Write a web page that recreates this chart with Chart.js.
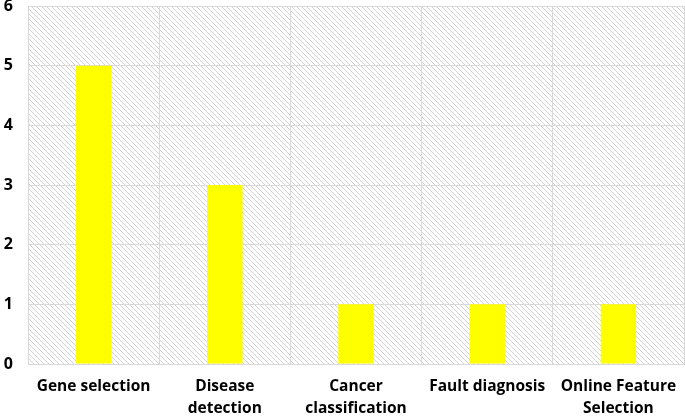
<!DOCTYPE html>
<html>
<head>
<meta charset="utf-8">
<script src="https://cdn.jsdelivr.net/npm/chart.js"></script>
<style>
  html, body { margin: 0; padding: 0; background: #fff; }
  #wrap { width: 685px; height: 418px; }
</style>
</head>
<body>
<div id="wrap"><canvas id="chart"></canvas></div>
<script>
// data
const categories = [
  'Gene selection',
  ['Disease', 'detection'],
  ['Cancer', 'classification'],
  'Fault diagnosis',
  ['Online Feature', 'Selection']
];
const counts = [5, 3, 1, 1, 1];
const yTicks = [0, 1, 2, 3, 4, 5, 6];

// diagonal hatch used as plot background
function makeHatch(ctx) {
  const c = document.createElement('canvas');
  c.width = 5; c.height = 5;
  const g = c.getContext('2d');
  g.fillStyle = '#ffffff';
  g.fillRect(0, 0, 5, 5);
  g.strokeStyle = '#d4d4d4';
  g.lineWidth = 1;
  g.beginPath();
  g.moveTo(-1, -1); g.lineTo(6, 6);
  g.moveTo(-1, 4); g.lineTo(1, 6);
  g.moveTo(4, -1); g.lineTo(6, 1);
  g.stroke();
  return ctx.createPattern(c, 'repeat');
}

const hatchBg = {
  id: 'hatchBg',
  beforeDraw(chart) {
    const { ctx, chartArea: a } = chart;
    ctx.save();
    ctx.fillStyle = makeHatch(ctx);
    ctx.fillRect(a.left, a.top, a.right - a.left, a.bottom - a.top);
    ctx.restore();
  }
};

const ctx = document.getElementById('chart').getContext('2d');
new Chart(ctx, {
  type: 'bar',
  data: {
    labels: categories,
    datasets: [{
      data: counts,
      backgroundColor: '#ffff00',
      borderWidth: 0,
      categoryPercentage: 1,
      barPercentage: 0.27
    }]
  },
  options: {
    responsive: true,
    maintainAspectRatio: false,
    animation: false,
    layout: { padding: { top: 6, right: 1, left: 0, bottom: 0 } },
    plugins: {
      legend: { display: false },
      tooltip: { enabled: false }
    },
    scales: {
      x: {
        afterFit: s => { s.height = 54; s.paddingLeft = 0; s.paddingRight = 0; },
        grid: { color: '#d9d9d9', lineWidth: 1, drawTicks: false, offset: true },
        border: { color: '#d9d9d9' },
        ticks: {
          color: '#000',
          font: { family: 'Open Sans', weight: 'bold', size: 15.5, lineHeight: 1.42 },
          padding: 12,
          maxRotation: 0,
          autoSkip: false
        }
      },
      y: {
        min: 0,
        max: 6,
        afterBuildTicks: s => { s.ticks = yTicks.map(v => ({ value: v })); },
        afterFit: s => { s.width = 28; s.paddingTop = 0; s.paddingBottom = 0; },
        grid: { color: '#d9d9d9', lineWidth: 1, drawTicks: false },
        border: { color: '#d9d9d9' },
        ticks: {
          color: '#000',
          font: { family: 'Open Sans', weight: 'bold', size: 16 },
          padding: 15,
          align: 'center'
        }
      }
    }
  },
  plugins: [hatchBg]
});
</script>
</body>
</html>
